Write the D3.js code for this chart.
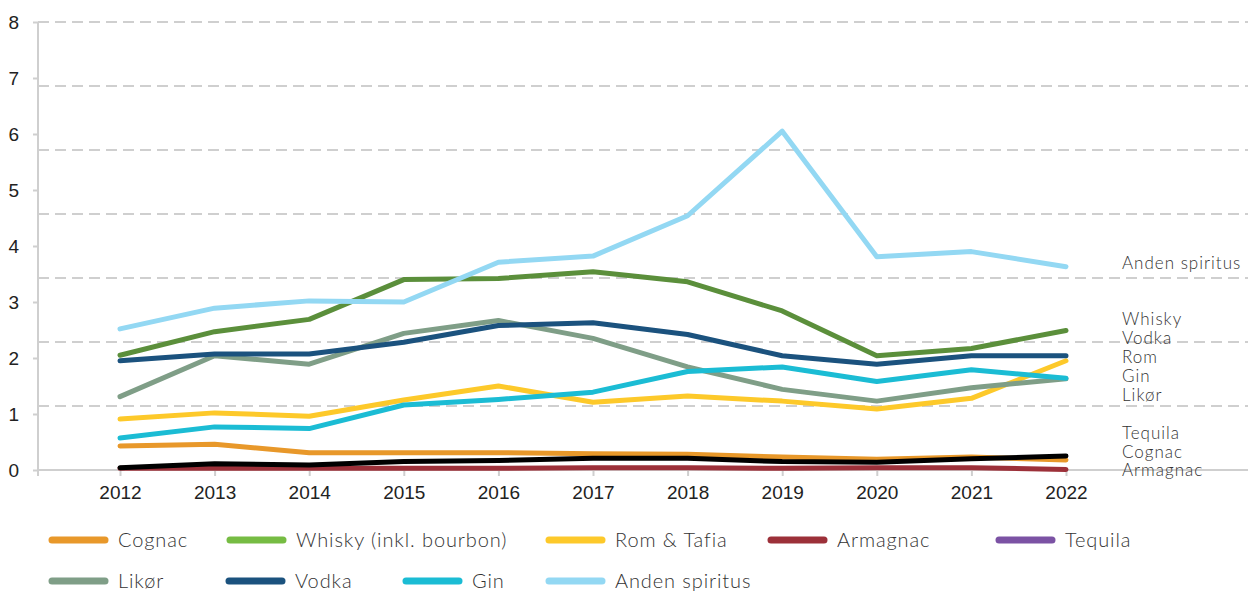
<!DOCTYPE html>
<html>
<head>
<meta charset="utf-8">
<script src="https://cdn.jsdelivr.net/npm/d3@7"></script>
<style>
  body { margin: 0; background: #fff; }
  svg { font-family: Lato, 'Open Sans', sans-serif; font-weight: 300; }
  .grid line { stroke: #cfcfcf; stroke-width: 2; stroke-dasharray: 11,6; }
  .axis path, .axis line { stroke: #cfcfcf; stroke-width: 2; }
  .axis text { fill: #222; font-size: 19px; font-weight: 400; }
  .series { fill: none; stroke-width: 5; stroke-linecap: round; stroke-linejoin: round; }
  .lbl { fill: #333; font-size: 17px; letter-spacing: 1px; }
  .legend text { fill: #333; font-size: 20px; letter-spacing: 0.9px; }
</style>
</head>
<body>
<svg width="1248" height="592"></svg>
<script>
var years = [2012, 2013, 2014, 2015, 2016, 2017, 2018, 2019, 2020, 2021, 2022];

var cognac   = [0.43, 0.46, 0.31, 0.31, 0.31, 0.29, 0.28, 0.23, 0.19, 0.23, 0.18];
var whisky   = [2.05, 2.47, 2.69, 3.40, 3.42, 3.54, 3.36, 2.84, 2.04, 2.17, 2.49];
var rom      = [0.91, 1.02, 0.96, 1.25, 1.50, 1.21, 1.32, 1.23, 1.09, 1.28, 1.95];
var armagnac = [0.03, 0.03, 0.03, 0.03, 0.03, 0.04, 0.04, 0.03, 0.04, 0.04, 0.01];
var tequila  = [0.04, 0.11, 0.09, 0.15, 0.17, 0.21, 0.21, 0.15, 0.14, 0.20, 0.25];
var likor    = [1.31, 2.04, 1.89, 2.44, 2.67, 2.35, 1.84, 1.44, 1.23, 1.47, 1.63];
var vodka    = [1.95, 2.07, 2.07, 2.28, 2.58, 2.63, 2.42, 2.04, 1.89, 2.04, 2.04];
var gin      = [0.57, 0.77, 0.74, 1.16, 1.26, 1.39, 1.76, 1.84, 1.58, 1.79, 1.64];
var anden    = [2.52, 2.89, 3.02, 3.00, 3.71, 3.82, 4.54, 6.05, 3.81, 3.90, 3.63];

var yTicks = [0, 1, 2, 3, 4, 5, 6, 7, 8];

var series = [
  {name: 'Cognac', legend: 'Cognac', values: cognac, color: '#e8982a', key: '#e8982a'},
  {name: 'Whisky', legend: 'Whisky (inkl. bourbon)', values: whisky, color: '#5b8f3b', key: '#76bc43'},
  {name: 'Rom', legend: 'Rom & Tafia', values: rom, color: '#fdc92a', key: '#fdc92a'},
  {name: 'Armagnac', legend: 'Armagnac', values: armagnac, color: '#9c3039', key: '#9c3039'},
  {name: 'Tequila', legend: 'Tequila', values: tequila, color: '#000000', key: '#7b52a4'},
  {name: 'Likør', legend: 'Likør', values: likor, color: '#7f9e87', key: '#7f9e87'},
  {name: 'Vodka', legend: 'Vodka', values: vodka, color: '#1b527e', key: '#1b527e'},
  {name: 'Gin', legend: 'Gin', values: gin, color: '#1bbcd4', key: '#1bbcd4'},
  {name: 'Anden spiritus', legend: 'Anden spiritus', values: anden, color: '#93d8f3', key: '#93d8f3'}
];

// end labels on the right, stacked by hand like the original
var endLabels = [
  {text: 'Anden spiritus', y: 263},
  {text: 'Whisky', y: 319},
  {text: 'Vodka', y: 338},
  {text: 'Rom', y: 357},
  {text: 'Gin', y: 376},
  {text: 'Likør', y: 395},
  {text: 'Tequila', y: 433},
  {text: 'Cognac', y: 452},
  {text: 'Armagnac', y: 470}
];

var svg = d3.select('svg'),
    mLeft = 38, mRight = 1248, mTop = 22, mBottom = 470;

var x = d3.scalePoint().domain(years).range([120, 1066]);
var y = d3.scaleLinear().domain([0, 8]).range([mBottom, mTop]);

// dashed grid: 7 even divisions of the axis
var gridVals = d3.range(1, 8).map(function(i) { return i * 8 / 7; });
svg.append('g')
  .attr('class', 'grid')
  .selectAll('line')
  .data(gridVals)
  .enter().append('line')
  .attr('x1', mLeft).attr('x2', mRight)
  .attr('y1', function(d) { return y(d); })
  .attr('y2', function(d) { return y(d); });

// y axis
var yAxis = svg.append('g')
  .attr('class', 'axis')
  .attr('transform', 'translate(' + mLeft + ',0)')
  .call(d3.axisLeft(y).tickValues(yTicks).tickSize(5).tickSizeOuter(0).tickPadding(14));
yAxis.select('.domain').attr('d', 'M0,' + mTop + 'V' + mBottom);

// x axis
var xAxis = svg.append('g')
  .attr('class', 'axis')
  .attr('transform', 'translate(0,' + mBottom + ')')
  .call(d3.axisBottom(x).tickSize(6).tickSizeOuter(0).tickPadding(10));
xAxis.select('.domain').attr('d', 'M' + mLeft + ',0H' + mRight);
xAxis.append('line').attr('x1', mLeft).attr('x2', mLeft).attr('y1', 0).attr('y2', 6);

var line = d3.line()
  .x(function(d, i) { return x(years[i]); })
  .y(function(d) { return y(d); });

svg.selectAll('.series')
  .data(series)
  .enter().append('path')
  .attr('class', 'series')
  .attr('stroke', function(d) { return d.color; })
  .attr('d', function(d) { return line(d.values); });

svg.selectAll('.lbl')
  .data(endLabels)
  .enter().append('text')
  .attr('class', 'lbl')
  .attr('x', 1122)
  .attr('y', function(d) { return d.y; })
  .attr('dy', '0.35em')
  .text(function(d) { return d.text; });

// legend, two rows
var legendPos = [
  [52, 540], [230, 540], [549, 540], [771, 540], [999, 540],
  [52, 581], [229, 581], [406, 581], [549, 581]
];
var lg = svg.append('g').attr('class', 'legend')
  .selectAll('g')
  .data(series)
  .enter().append('g')
  .attr('transform', function(d, i) { return 'translate(' + legendPos[i][0] + ',' + legendPos[i][1] + ')'; });
lg.append('line')
  .attr('x1', 0).attr('x2', 53)
  .attr('stroke', function(d) { return d.key; })
  .attr('stroke-width', 7)
  .attr('stroke-linecap', 'round');
lg.append('text')
  .attr('x', 66)
  .attr('dy', '0.35em')
  .text(function(d) { return d.legend; });
</script>
</body>
</html>
